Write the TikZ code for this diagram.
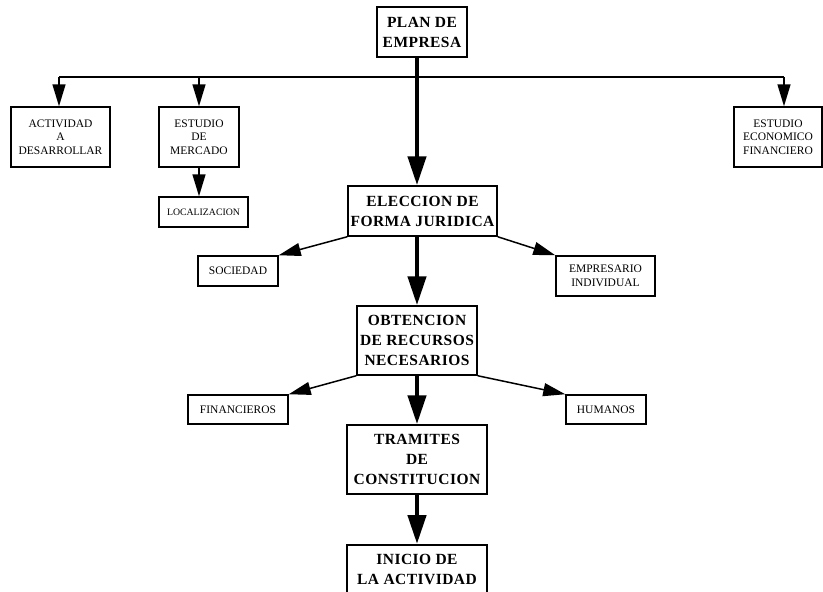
\documentclass[tikz,border=0pt]{standalone}
\usepackage{fontspec}
\setmainfont{Liberation Serif}
\newfontfamily\spacedfont[LetterSpace=3]{Liberation Serif}
\usetikzlibrary{arrows.meta}

\tikzset{
  mainbox/.style={draw,rectangle,line width=1.5pt,inner sep=0pt,align=center,
    font=\spacedfont\bfseries\fontsize{15.5}{20}\selectfont},
  subbox/.style={draw,rectangle,line width=1.5pt,inner sep=0pt,align=center,
    font=\fontsize{11.5}{13.5}\selectfont},
  thinarr/.style={line width=1.5pt,-{Triangle[length=22pt,width=13pt]}},
  thickarr/.style={line width=4.5pt,-{Triangle[length=29pt,width=18pt]}},
}

\begin{document}
\begin{tikzpicture}[x=1pt,y=-1pt]

  \useasboundingbox (0,0) rectangle (823,592);

  \node (plan) at (422,32) [mainbox,minimum width=90,minimum height=50]{PLAN DE\\EMPRESA};

  \node (actividad) at (60.5,137) [subbox,minimum width=99,minimum height=60]{ACTIVIDAD\\A\\DESARROLLAR};
  \node (mercado) at (199,137) [subbox,minimum width=80,minimum height=60]{ESTUDIO\\DE\\MERCADO};
  \node (economico) at (778,137) [subbox,minimum width=88,minimum height=60]{ESTUDIO\\ECONOMICO\\FINANCIERO};
  \node (localizacion) at (203.5,212) [subbox,minimum width=89,minimum height=30,
    font=\fontsize{9.8}{12}\selectfont]{LOCALIZACION};

  \node (eleccion) at (422.5,211) [mainbox,minimum width=149,minimum height=50]{ELECCION DE\\FORMA JURIDICA};
  \node (sociedad) at (238,271) [subbox,minimum width=80,minimum height=30]{SOCIEDAD};
  \node (empresario) at (605.5,276) [subbox,minimum width=99,minimum height=40]{EMPRESARIO\\INDIVIDUAL};

  \node (obtencion) at (417,340.5) [mainbox,minimum width=120,minimum height=69]{OBTENCION\\DE RECURSOS\\NECESARIOS};
  \node (financieros) at (238,409.5) [subbox,minimum width=100,minimum height=29]{FINANCIEROS};
  \node (humanos) at (606,409.5) [subbox,minimum width=80,minimum height=29]{HUMANOS};

  \node (tramites) at (417,459.5) [mainbox,minimum width=140,minimum height=69]{TRAMITES\\DE\\CONSTITUCION};
  \node (inicio) at (417,544) [mainbox,anchor=north,minimum width=140,minimum height=69]{INICIO DE\\LA ACTIVIDAD\\~};

  % branch bar under the plan
  \coordinate (barL) at (59,77);
  \coordinate (barR) at (784,77);
  \draw[line width=1.5pt] (barL) -- (barR);
  \draw[thinarr] (barL) -- (barL |- actividad.north);
  \draw[thinarr] (mercado.north |- barL) -- (mercado.north);
  \draw[thinarr] (barR) -- (barR |- economico.north);
  \draw[thinarr] (mercado.south) -- (mercado.south |- localizacion.north);

  % main column
  \draw[thickarr] (plan.south -| obtencion) -- (eleccion.north -| obtencion);
  \draw[thickarr] (eleccion.south -| obtencion) -- (obtencion.north);
  \draw[thickarr] (obtencion) -- (tramites);
  \draw[thickarr] (tramites) -- (inicio);

  \draw[thinarr] (eleccion.south west) -- (sociedad.north east);
  \draw[thinarr] (eleccion.south east) -- (empresario.north west);
  \draw[thinarr] (obtencion.south west) -- (financieros.north east);
  \draw[thinarr] (obtencion.south east) -- (humanos.north west);

\end{tikzpicture}
\end{document}
